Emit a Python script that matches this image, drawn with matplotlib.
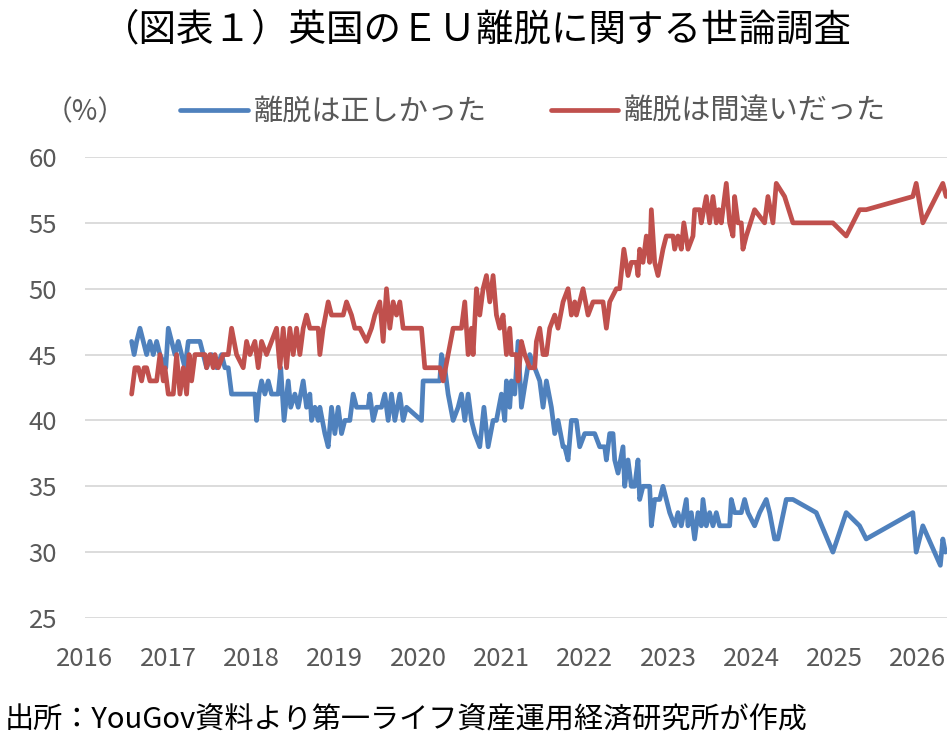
import matplotlib
matplotlib.use("Agg")
import matplotlib.pyplot as plt

plt.rcParams['font.family'] = ['Noto Sans CJK JP', 'DejaVu Sans']

title = "（図表１）英国のＥＵ離脱に関する世論調査"
label_right = "離脱は正しかった"
label_wrong = "離脱は間違いだった"
unit_label = "（%）"
source = "出所：YouGov資料より第一ライフ資産運用経済研究所が作成"

x_ticks = [2016, 2017, 2018, 2019, 2020, 2021, 2022, 2023, 2024, 2025, 2026]
y_ticks = [25, 30, 35, 40, 45, 50, 55, 60]

# 離脱は正しかった (decimal year, %)
t_right = [2016.56, 2016.59, 2016.62, 2016.66, 2016.70, 2016.74, 2016.78, 2016.82, 2016.86, 2016.90,
           2016.97, 2017.00, 2017.04, 2017.08, 2017.12, 2017.16, 2017.20, 2017.24, 2017.38, 2017.42,
           2017.46, 2017.52, 2017.58, 2017.64, 2017.68, 2017.72, 2017.76, 2018.04, 2018.06, 2018.09,
           2018.12, 2018.16, 2018.20, 2018.24, 2018.32, 2018.35, 2018.39, 2018.44, 2018.47, 2018.52,
           2018.56, 2018.62, 2018.66, 2018.70, 2018.72, 2018.76, 2018.80, 2018.82, 2018.88, 2018.92,
           2018.96, 2019.00, 2019.04, 2019.08, 2019.12, 2019.18, 2019.22, 2019.26, 2019.40, 2019.42,
           2019.46, 2019.50, 2019.56, 2019.60, 2019.64, 2019.68, 2019.72, 2019.78, 2019.82, 2019.86,
           2020.04, 2020.06, 2020.26, 2020.28, 2020.32, 2020.36, 2020.42, 2020.48, 2020.52, 2020.56,
           2020.60, 2020.64, 2020.68, 2020.74, 2020.79, 2020.84, 2020.90, 2020.94, 2021.00, 2021.04,
           2021.06, 2021.10, 2021.12, 2021.16, 2021.20, 2021.24, 2021.34, 2021.40, 2021.46, 2021.50,
           2021.54, 2021.60, 2021.64, 2021.68, 2021.74, 2021.76, 2021.80, 2021.84, 2021.90, 2021.94,
           2022.00, 2022.06, 2022.12, 2022.18, 2022.24, 2022.26, 2022.30, 2022.34, 2022.36, 2022.40,
           2022.46, 2022.48, 2022.52, 2022.56, 2022.60, 2022.64, 2022.66, 2022.70, 2022.74, 2022.78,
           2022.80, 2022.84, 2022.90, 2022.94, 2022.98, 2023.02, 2023.08, 2023.12, 2023.16, 2023.22,
           2023.24, 2023.28, 2023.32, 2023.36, 2023.40, 2023.42, 2023.46, 2023.50, 2023.54, 2023.58,
           2023.62, 2023.74, 2023.76, 2023.80, 2023.88, 2023.92, 2023.96, 2024.04, 2024.10, 2024.18,
           2024.22, 2024.28, 2024.32, 2024.42, 2024.50, 2024.78, 2024.98, 2025.14, 2025.30, 2025.38,
           2025.94, 2025.98, 2026.06, 2026.27, 2026.30, 2026.33]
v_right = [46, 45, 46, 47, 46, 45, 46, 45, 46, 45,
           44, 47, 46, 45, 46, 45, 44, 46, 46, 45,
           44, 45, 44, 45, 44, 44, 42, 42, 40, 42,
           43, 42, 43, 42, 42, 44, 40, 43, 41, 42,
           41, 43, 41, 42, 40, 41, 40, 41, 39, 38,
           41, 39, 41, 39, 40, 40, 42, 41, 41, 42,
           40, 41, 41, 42, 40, 42, 40, 42, 40, 41,
           40, 43, 43, 45, 44, 42, 40, 41, 42, 40,
           42, 40, 39, 38, 41, 38, 40, 40, 42, 40,
           43, 41, 43, 42, 46, 41, 45, 44, 43, 41,
           43, 41, 39, 40, 38, 38, 37, 40, 40, 38,
           39, 39, 39, 38, 38, 37, 39, 39, 37, 36,
           38, 35, 37, 35, 35, 37, 34, 35, 35, 35,
           32, 34, 34, 35, 34, 33, 32, 33, 32, 34,
           32, 33, 31, 33, 32, 34, 32, 33, 32, 33,
           32, 32, 34, 33, 33, 34, 33, 32, 33, 34,
           33, 31, 31, 34, 34, 33, 30, 33, 32, 31,
           33, 30, 32, 29, 31, 30]

# 離脱は間違いだった (decimal year, %)
t_wrong = [2016.56, 2016.60, 2016.64, 2016.68, 2016.71, 2016.74, 2016.78, 2016.86, 2016.90, 2016.94,
           2016.96, 2017.00, 2017.06, 2017.10, 2017.14, 2017.18, 2017.22, 2017.25, 2017.28, 2017.32,
           2017.44, 2017.46, 2017.50, 2017.54, 2017.56, 2017.60, 2017.66, 2017.72, 2017.76, 2017.82,
           2017.90, 2017.94, 2017.98, 2018.04, 2018.08, 2018.12, 2018.18, 2018.24, 2018.30, 2018.34,
           2018.38, 2018.42, 2018.46, 2018.50, 2018.54, 2018.58, 2018.62, 2018.66, 2018.70, 2018.80,
           2018.82, 2018.86, 2018.92, 2018.96, 2019.10, 2019.14, 2019.20, 2019.24, 2019.30, 2019.38,
           2019.44, 2019.48, 2019.54, 2019.58, 2019.62, 2019.66, 2019.70, 2019.74, 2019.78, 2019.82,
           2019.86, 2020.04, 2020.08, 2020.22, 2020.26, 2020.30, 2020.36, 2020.42, 2020.52, 2020.56,
           2020.60, 2020.64, 2020.66, 2020.70, 2020.74, 2020.78, 2020.82, 2020.86, 2020.90, 2020.94,
           2020.98, 2021.02, 2021.06, 2021.10, 2021.12, 2021.18, 2021.20, 2021.24, 2021.28, 2021.34,
           2021.40, 2021.42, 2021.46, 2021.50, 2021.54, 2021.58, 2021.64, 2021.68, 2021.74, 2021.80,
           2021.84, 2021.88, 2021.90, 2021.94, 2021.98, 2022.04, 2022.10, 2022.22, 2022.26, 2022.30,
           2022.38, 2022.42, 2022.47, 2022.52, 2022.56, 2022.62, 2022.64, 2022.66, 2022.70, 2022.74,
           2022.78, 2022.80, 2022.84, 2022.88, 2022.94, 2022.98, 2023.06, 2023.08, 2023.12, 2023.16,
           2023.19, 2023.24, 2023.30, 2023.32, 2023.38, 2023.40, 2023.46, 2023.50, 2023.54, 2023.58,
           2023.61, 2023.64, 2023.70, 2023.74, 2023.78, 2023.80, 2023.84, 2023.88, 2023.90, 2023.94,
           2024.04, 2024.16, 2024.20, 2024.26, 2024.30, 2024.40, 2024.50, 2024.98, 2025.14, 2025.30,
           2025.38, 2025.94, 2025.98, 2026.06, 2026.30, 2026.34]
v_wrong = [42, 44, 44, 43, 44, 44, 43, 43, 45, 43,
           44, 42, 42, 45, 42, 44, 42, 45, 43, 45,
           45, 44, 45, 44, 45, 44, 45, 45, 47, 45,
           44, 46, 45, 46, 44, 46, 45, 46, 47, 44,
           47, 44, 47, 45, 47, 45, 47, 48, 47, 47,
           45, 47, 49, 48, 48, 49, 48, 47, 47, 46,
           47, 48, 49, 46, 50, 47, 49, 48, 49, 47,
           47, 47, 44, 44, 44, 43, 45, 47, 47, 49,
           45, 47, 45, 50, 48, 50, 51, 49, 51, 48,
           47, 48, 45, 47, 45, 45, 43, 46, 45, 44,
           44, 46, 47, 45, 45, 47, 48, 47, 49, 50,
           48, 49, 48, 49, 50, 48, 49, 49, 47, 49,
           50, 50, 53, 51, 52, 52, 51, 53, 52, 54,
           52, 56, 52, 51, 53, 54, 54, 53, 54, 53,
           55, 53, 54, 56, 56, 55, 57, 55, 57, 55,
           56, 55, 58, 55, 54, 57, 55, 55, 53, 54,
           56, 55, 57, 55, 58, 57, 55, 55, 54, 56,
           56, 57, 58, 55, 58, 57]

color_right = "#4F81BD"
color_wrong = "#C0504D"
text_color = "#595959"

fig = plt.figure(figsize=(9.53, 7.41), dpi=100)
ax = fig.add_axes([85 / 953, 1 - 618 / 741, (947 - 85) / 953, (618 - 157) / 741])

ax.plot(t_right, v_right, color=color_right, lw=3.4, solid_joinstyle='round', solid_capstyle='round',
        label=label_right, zorder=3)
ax.plot(t_wrong, v_wrong, color=color_wrong, lw=3.4, solid_joinstyle='round', solid_capstyle='round',
        label=label_wrong, zorder=3)

ax.set_xlim(2016, 2026.35)
ax.set_ylim(25, 60)
ax.set_xticks(x_ticks)
ax.set_xticklabels([str(x) for x in x_ticks])
ax.set_yticks(y_ticks)
ax.grid(axis='y', color='#D9D9D9', lw=1.3)
ax.set_axisbelow(True)
for s in ax.spines.values():
    s.set_visible(False)
ax.tick_params(axis='both', length=0, labelsize=18.5, colors=text_color)
ax.tick_params(axis='x', pad=20)
ax.tick_params(axis='y', pad=20)

fig.text(0.5, 1 - 30 / 741, title, ha='center', va='center', fontsize=27, color='#000000')
fig.text(85 / 953, 1 - 112 / 741, unit_label, ha='center', va='center', fontsize=20, color=text_color)

leg = fig.legend(loc='center', bbox_to_anchor=(533 / 953, 1 - 112 / 741), ncol=2, frameon=False,
                 fontsize=21, handlelength=2.3, handletextpad=0.2, columnspacing=2.2,
                 labelcolor=text_color)

fig.text(5 / 953, 1 - 720 / 741, source, ha='left', va='center', fontsize=21, color='#000000')

fig.savefig("out.png", dpi=100)
